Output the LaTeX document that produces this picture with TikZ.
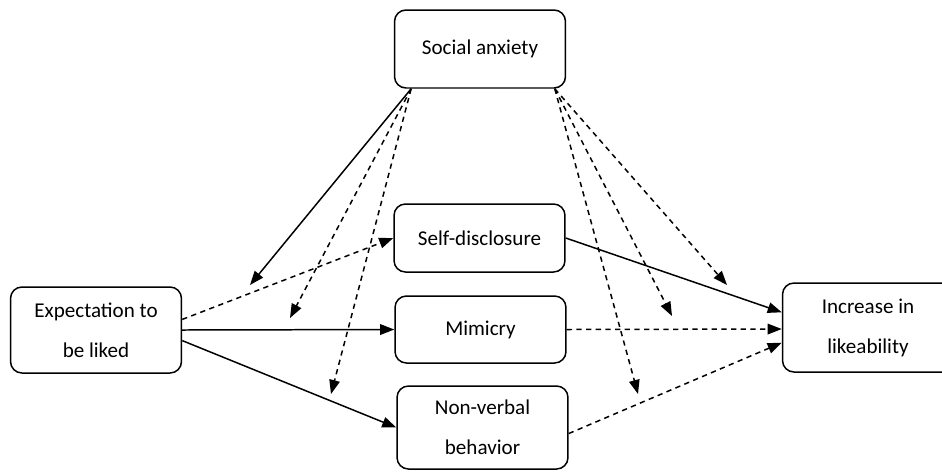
\documentclass[tikz,border=0pt]{standalone}
\usepackage{fontspec}
\setmainfont{Carlito}
\usetikzlibrary{arrows.meta}

\begin{document}
\begin{tikzpicture}[->,>={Triangle[length=8pt,width=6pt]},x=0.02cm,y=-0.02cm,line width=0.85pt]
  \tikzstyle{every node}=[font=\fontsize{12}{22.7}\selectfont]
  \tikzstyle{var}=[draw,rounded corners=6.5pt,align=center,minimum width=3.42cm,inner sep=0pt]
  \tikzstyle{d}=[dash pattern=on 3pt off 2.5pt]

  \clip (0,0) rectangle (942,471);

  \node[var,minimum height=1.56cm] (SA) at (480,49)    {Social anxiety};
  \node[var,minimum height=1.36cm] (SD) at (479.5,238) {Self-disclosure};
  \node[var,minimum height=1.34cm] (MI) at (480.5,329.5) {Mimicry};
  \node[var,minimum height=1.66cm] (NV) at (482.5,427.5) {Non-verbal\\behavior};
  \node[var,minimum height=1.72cm] (EL) at (96,330)    {Expectation to\\be liked};
  \node[var,minimum height=1.78cm] (IL) at (868,327.5) {Increase in\\likeability};

  % moderation by social anxiety
  \coordinate (a1) at (250,285);
  \coordinate (a2) at (290,318);
  \coordinate (a3) at (331,394);
  \coordinate (b1) at (727,285);
  \coordinate (b2) at (672,316);
  \coordinate (b3) at (638,394);

  \path (SA.-150) edge           (a1)
                  edge [d]       (a2)
                  edge [d]       (a3)
        (SA.-28)  edge [d]       (b1)
                  edge [d]       (b2)
                  edge [d]       (b3)
        (EL.7)    edge [d]       (SD.west)
        (EL.east) edge           (MI.west)
        (EL.-7)   edge           (NV.west)
        (SD.east) edge           (IL.170)
        (MI.east) edge [d]       (IL.181)
        (NV.-4)   edge [d]       (IL.190);
\end{tikzpicture}
\end{document}
